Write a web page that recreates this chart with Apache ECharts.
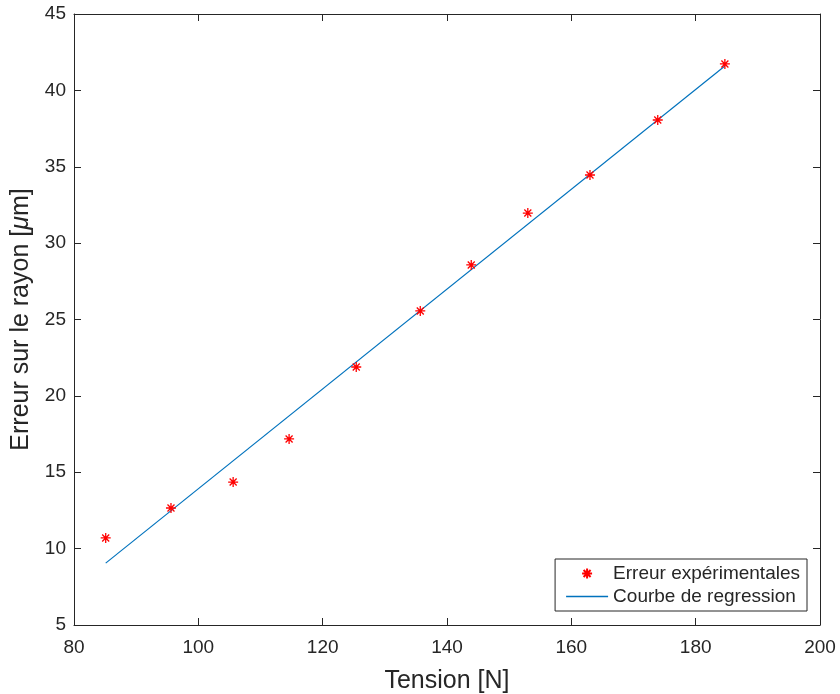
<!DOCTYPE html>
<html>
<head>
<meta charset="utf-8">
<script src="https://cdn.jsdelivr.net/npm/echarts@6/dist/echarts.min.js"></script>
<style>
  html, body { margin: 0; padding: 0; background: #fff; }
  #chart { width: 840px; height: 694px; }
</style>
</head>
<body>
<div id="chart"></div>
<script>
// experimental points (tension in N, error in um)
const tension = [85.1, 95.6, 105.6, 114.6, 125.4, 135.7, 143.9, 153.0, 163.0, 173.9, 184.7]
const erreur = [10.7, 12.66, 14.36, 17.18, 21.89, 25.56, 28.57, 31.97, 34.46, 38.06, 41.73]
// regression line end points
const regX = [85.1, 184.7]
const regY = [9.05, 41.6]

const asterisk = 'path://M5 0L5 10M0 5L10 5M1.5 1.5L8.5 8.5M8.5 1.5L1.5 8.5'
const axisCol = '#262626'

const chart = echarts.init(document.getElementById('chart'))

const baseAxis = {
  type: 'value',
  axisLine: { show: true, onZero: false, lineStyle: { color: axisCol, width: 1 } },
  axisTick: { show: true, inside: true, length: 7, lineStyle: { color: axisCol } },
  splitLine: { show: false }
}

chart.setOption({
  animation: false,
  textStyle: { fontFamily: 'Liberation Sans, Arial, sans-serif' },
  grid: { left: 74, right: 20, top: 14, bottom: 69, outerBoundsMode: 'none', containLabel: false },
  legend: {
    right: 33,
    bottom: 83,
    orient: 'vertical',
    backgroundColor: '#fff',
    borderColor: axisCol,
    borderWidth: 1,
    borderRadius: 0,
    padding: [5, 7, 5, 11],
    itemGap: 4,
    itemWidth: 42,
    itemHeight: 10,
    textStyle: { fontSize: 19, color: '#262626' },
    data: [
      'Erreur expérimentales',
      {
        name: 'Courbe de regression',
        icon: 'path://M0 4.4L40 4.4L40 5.6L0 5.6Z',
        itemStyle: { color: '#0072bd', borderWidth: 0 }
      }
    ]
  },
  xAxis: [
    Object.assign({}, baseAxis, {
      position: 'bottom',
      min: 80, max: 200, interval: 20,
      name: 'Tension [N]',
      nameLocation: 'middle',
      nameGap: 44,
      nameTextStyle: { fontSize: 25, color: axisCol },
      axisLabel: { fontSize: 19, color: axisCol, margin: 13 }
    }),
    Object.assign({}, baseAxis, {
      position: 'top',
      min: 80, max: 200, interval: 20,
      axisLabel: { show: false }
    })
  ],
  yAxis: [
    Object.assign({}, baseAxis, {
      position: 'left',
      min: 5, max: 45, interval: 5,
      name: 'Erreur sur le rayon [{i|μ}m]',
      nameLocation: 'middle',
      nameGap: 38,
      nameRotate: 90,
      nameTextStyle: {
        fontSize: 25, color: axisCol,
        rich: { i: { fontSize: 25, fontStyle: 'italic', color: axisCol } }
      },
      axisLabel: { fontSize: 19, color: axisCol, margin: 8 }
    }),
    Object.assign({}, baseAxis, {
      position: 'right',
      min: 5, max: 45, interval: 5,
      axisLabel: { show: false }
    })
  ],
  series: [
    {
      name: 'Courbe de regression',
      type: 'line',
      data: regX.map((x, i) => [x, regY[i]]),
      showSymbol: false,
      symbol: 'none',
      lineStyle: { color: '#0072bd', width: 1.2 },
      itemStyle: { color: '#0072bd' },
      z: 2
    },
    {
      name: 'Erreur expérimentales',
      type: 'scatter',
      data: tension.map((x, i) => [x, erreur[i]]),
      symbol: asterisk,
      symbolSize: 10,
      itemStyle: { color: 'none', borderColor: '#ff0000', borderWidth: 1.3, opacity: 1 },
      z: 3
    }
  ]
})
</script>
</body>
</html>
